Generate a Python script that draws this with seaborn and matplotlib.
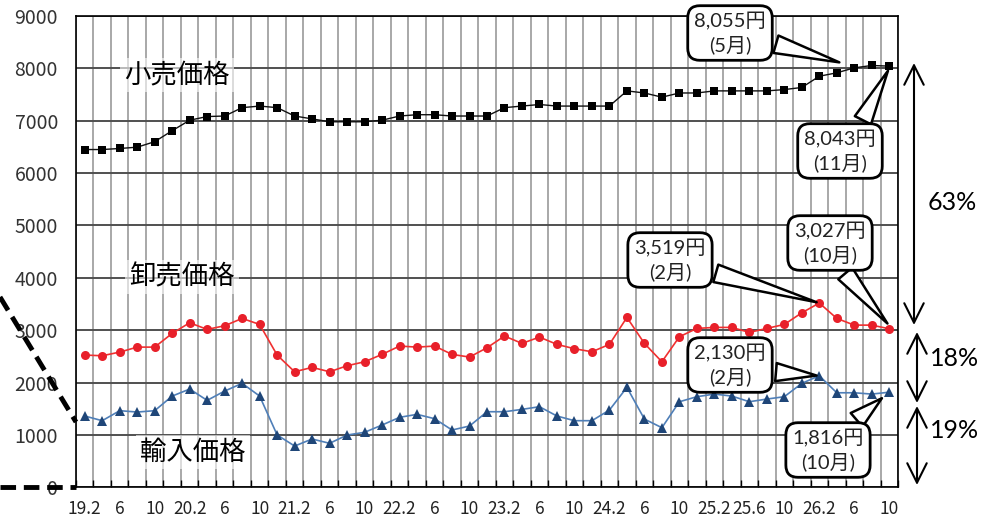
import numpy as np
import pandas as pd
import matplotlib
matplotlib.use("Agg")
import matplotlib.pyplot as plt
import seaborn as sns
from matplotlib.lines import Line2D
from matplotlib.patches import FancyArrowPatch

# Bimonthly prices (yen), 19.2 .. 26.10
retail = [6450, 6450, 6470, 6495, 6600, 6810, 7010, 7080, 7090, 7250, 7280,
          7250, 7090, 7035, 6980, 6980, 6980, 7010, 7090, 7115, 7115, 7090,
          7090, 7090, 7250, 7280, 7310, 7280, 7280, 7280, 7280, 7570, 7530,
          7450, 7530, 7530, 7570, 7570, 7570, 7570, 7595, 7635, 7850, 7915,
          8010, 8055, 8043]
wholesale = [2525, 2512, 2582, 2677, 2677, 2939, 3142, 3015, 3085, 3225, 3110,
             2525, 2206, 2290, 2206, 2321, 2397, 2538, 2697, 2677, 2697, 2538,
             2487, 2665, 2888, 2748, 2868, 2729, 2646, 2588, 2729, 3244, 2748,
             2397, 2875, 3034, 3053, 3053, 2958, 3034, 3110, 3332, 3519, 3225,
             3097, 3097, 3027]
imported = [1361, 1272, 1463, 1437, 1463, 1742, 1876, 1660, 1838, 1985, 1742,
            1000, 788, 922, 840, 998, 1050, 1189, 1336, 1393, 1310, 1094,
            1170, 1443, 1443, 1488, 1539, 1361, 1272, 1272, 1475, 1908, 1303,
            1138, 1634, 1730, 1780, 1742, 1634, 1685, 1730, 1985, 2130, 1805,
            1805, 1780, 1816]
xtick_labels = ["19.2", "6", "10", "20.2", "6", "10", "21.2", "6", "10",
                "22.2", "6", "10", "23.2", "6", "10", "24.2", "6", "10",
                "25.2", "25.6", "10", "26.2", "6", "10"]
series_names = ["小売価格", "卸売価格", "輸入価格"]
shares = ["63%", "18%", "19%"]

df = pd.DataFrame({"idx": np.arange(len(retail)), "retail": retail,
                   "wholesale": wholesale, "imported": imported})

sns.set_theme(style="white")
plt.rcParams["font.family"] = ["Noto Sans CJK JP", "DejaVu Sans"]

W, H = 985, 517
fig = plt.figure(figsize=(W / 100, H / 100), dpi=100)
ax = fig.add_axes([76 / W, 1 - 487.3 / H, (898 - 76) / W, (487.3 - 16) / H])

sns.lineplot(data=df, x="idx", y="retail", ax=ax, color="#111111",
             linewidth=1.0, marker="s", markersize=6, markeredgewidth=0,
             markerfacecolor="black", zorder=4)
sns.lineplot(data=df, x="idx", y="wholesale", ax=ax, color="#f03030",
             linewidth=1.2, marker="o", markersize=6.5, markeredgewidth=0,
             markerfacecolor="#e8202a", zorder=4)
sns.lineplot(data=df, x="idx", y="imported", ax=ax, color="#4f7fb8",
             linewidth=1.2, marker="^", markersize=7, markeredgewidth=0,
             markerfacecolor="#1f4678", zorder=4)

n = len(retail)
ax.set_xlim(-0.5, n - 0.5)
ax.set_ylim(0, 9000)
ax.set_xlabel("")
ax.set_ylabel("")

ax.set_xticks(np.arange(0, n, 2))
ax.set_xticklabels(xtick_labels)
ax.set_xticks(np.arange(-0.5, n, 1), minor=True)
ax.set_yticks(np.arange(0, 9001, 1000))
ax.tick_params(axis="x", which="major", length=0, pad=9, labelsize=12.5,
               labelcolor="#222222")
ax.tick_params(axis="x", which="minor", bottom=True, direction="in",
               length=5, width=1, color="black")
ax.tick_params(axis="y", length=0, pad=13, labelsize=14, labelcolor="#333333")

ax.grid(False)
ax.grid(True, axis="x", which="minor", color="#9a9a9a", linewidth=1.2)
ax.grid(True, axis="y", which="major", color="#505050", linewidth=1.4)
ax.set_axisbelow(True)
for s in ax.spines.values():
    s.set_color("black")
    s.set_linewidth(1.2)
    s.set_visible(True)

# Series names
name_pos = [(177, 75), (182, 277), (193, 452)]
for name, (px, py) in zip(series_names, name_pos):
    fig.text(px / W, 1 - py / H, name, fontsize=19, ha="center", va="center",
             color="black",
             bbox=dict(boxstyle="square,pad=0.15", fc="white", ec="none",
                       alpha=0.6), zorder=3)

# Callouts
callouts = [
    ("8,055円\n(5月)", (43.3, 8100), (730, 33), (1.0, 0.3)),
    ("8,043円\n(11月)", (n - 1, retail[-1] - 40), (840, 151), (0.75, 1.0)),
    ("3,519円\n(2月)", (42, wholesale[42]), (670, 260), (1.0, 0.25)),
    ("3,027円\n(10月)", (n - 1, wholesale[-1] + 60), (830, 243), (0.6, 0.0)),
    ("2,130円\n(2月)", (42, imported[42]), (730, 365), (1.0, 0.35)),
    ("1,816円\n(10月)", (n - 1.3, imported[-1] - 80), (828, 450), (0.75, 1.0)),
]
for text, xy, (tx, ty), rel in callouts:
    ax.annotate(text, xy=xy, xycoords="data",
                xytext=(tx, H - ty), textcoords="figure pixels",
                ha="center", va="center", multialignment="center",
                fontsize=14.5, linespacing=1.3,
                family=["Lato", "Noto Sans CJK JP"], color="#222222",
                bbox=dict(boxstyle="round,pad=0.32,rounding_size=0.6",
                          fc="white", ec="black", lw=2),
                arrowprops=dict(arrowstyle="wedge,tail_width=0.9,shrink_factor=0.5",
                                fc="white", ec="black", lw=1.8,
                                relpos=rel, shrinkB=2),
                zorder=6, annotation_clip=False)

# Share arrows on the right
share_arrows = [((914, 63), (914, 325), (952, 202)),
                ((917, 332), (917, 403), (955, 358)),
                ((917, 406), (917, 485), (955, 431))]
for label, ((x0, y0), (x1, y1), (tx, ty)) in zip(shares, share_arrows):
    fig.add_artist(FancyArrowPatch(
        (x0 / W, 1 - y0 / H), (x1 / W, 1 - y1 / H),
        transform=fig.transFigure,
        arrowstyle="<->,head_length=0.7,head_width=0.35",
        mutation_scale=20, lw=1.5, color="black", shrinkA=0, shrinkB=0))
    fig.text(tx / W, 1 - ty / H, label, fontsize=18, ha="center",
             va="center", family=["Lato", "DejaVu Sans"], color="black")

# Dashed guide lines at the left edge
for (xa, ya), (xb, yb) in [((0, 297), (76, 422)), ((0, 487), (76, 487))]:
    fig.add_artist(Line2D([xa / W, xb / W], [1 - ya / H, 1 - yb / H],
                          transform=fig.transFigure, color="black",
                          linewidth=3.5, dashes=(3.2, 1.6), zorder=10))

fig.savefig("out.png", dpi=100)
